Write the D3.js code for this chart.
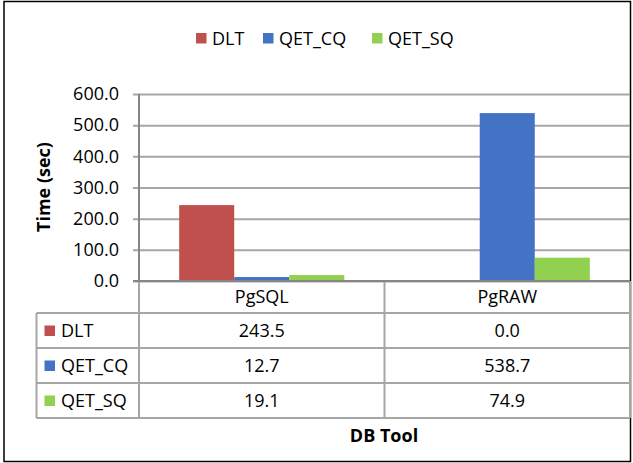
<!DOCTYPE html>
<html>
<head>
<meta charset="utf-8">
<script src="https://cdn.jsdelivr.net/npm/d3@7"></script>
<style>
  body { margin: 0; background: #fff; }
  text { font-family: "Open Sans", "Noto Sans", sans-serif; fill: #000; }
</style>
</head>
<body>
<svg class="chart"></svg>
<script>
// data
var categories = ["PgSQL", "PgRAW"];
var seriesNames = ["DLT", "QET_CQ", "QET_SQ"];
var dltValues = [243.5, 0.0];
var qetCqValues = [12.7, 538.7];
var qetSqValues = [19.1, 74.9];
var yTicks = [0, 100, 200, 300, 400, 500, 600];
var colors = ["#C0504D", "#4472C4", "#92D050"];

var seriesValues = [dltValues, qetCqValues, qetSqValues];

var width = 633;
var height = 463;
var fs = "18px";

var svg = d3.select(".chart")
  .attr("width", width)
  .attr("height", height);

// outer border
svg.append("rect")
  .attr("x", 4)
  .attr("y", 1.5)
  .attr("width", 626.5)
  .attr("height", 460)
  .attr("fill", "none")
  .attr("stroke", "#000")
  .attr("stroke-width", 1.5);

var plotLeft = 139;
var plotRight = 630;
var plotTop = 94;
var plotBottom = 281;

var x = d3.scaleBand()
  .domain(categories)
  .range([plotLeft, plotRight]);

var xSeries = d3.scaleBand()
  .domain(seriesNames)
  .range([0, x.bandwidth()])
  .paddingInner(0)
  .paddingOuter(0.73);

var y = d3.scaleLinear()
  .domain([0, 600])
  .range([plotBottom, plotTop]);

// gridlines + y labels
var yAxis = d3.axisLeft(y)
  .tickValues(yTicks)
  .tickFormat(d3.format(".1f"))
  .tickSize(-(plotRight - plotLeft));

var yg = svg.append("g")
  .attr("transform", "translate(" + plotLeft + ",0)")
  .call(yAxis);
yg.select(".domain").remove();
yg.selectAll(".tick line")
  .attr("x1", -6)
  .attr("stroke", "#A6A6A6")
  .attr("stroke-width", 2);
yg.selectAll(".tick text")
  .attr("x", -20)
  .style("font-size", fs)
  .style("font-family", "'Open Sans', sans-serif");

// bars
var barData = [];
seriesNames.forEach(function(s, si) {
  categories.forEach(function(c, ci) {
    barData.push({series: s, cat: c, value: seriesValues[si][ci], color: colors[si]});
  });
});

svg.append("g").selectAll("rect")
  .data(barData)
  .enter()
  .append("rect")
  .attr("x", function(d) { return x(d.cat) + xSeries(d.series); })
  .attr("y", function(d) { return y(d.value); })
  .attr("width", xSeries.bandwidth())
  .attr("height", function(d) { return plotBottom - y(d.value); })
  .attr("fill", function(d) { return d.color; });

// y axis line
svg.append("line")
  .attr("x1", plotLeft).attr("x2", plotLeft)
  .attr("y1", plotTop).attr("y2", plotBottom)
  .attr("stroke", "#868686")
  .attr("stroke-width", 2);

// data table under the plot
var tableLeft = 36.5;
var rowLines = [plotBottom, 313, 348, 383, 418];
var lineColor = "#A6A6A6";
var table = svg.append("g");

// horizontal lines
table.selectAll("line.h")
  .data(rowLines.slice(1))
  .enter()
  .append("line")
  .attr("class", "h")
  .attr("x1", tableLeft).attr("x2", plotRight)
  .attr("y1", function(d) { return d; })
  .attr("y2", function(d) { return d; })
  .attr("stroke", lineColor)
  .attr("stroke-width", 2);

// vertical lines
var vLines = [
  {x: tableLeft, y1: rowLines[1], y2: rowLines[4]},
  {x: plotLeft, y1: plotBottom, y2: rowLines[4]},
  {x: x(categories[1]), y1: plotBottom, y2: rowLines[4]},
  {x: plotRight, y1: plotBottom, y2: rowLines[4]}
];
table.selectAll("line.v")
  .data(vLines)
  .enter()
  .append("line")
  .attr("class", "v")
  .attr("x1", function(d) { return d.x; })
  .attr("x2", function(d) { return d.x; })
  .attr("y1", function(d) { return d.y1; })
  .attr("y2", function(d) { return d.y2; })
  .attr("stroke", lineColor)
  .attr("stroke-width", 2);

// x axis line (darker)
svg.append("line")
  .attr("x1", plotLeft - 6).attr("x2", plotRight)
  .attr("y1", plotBottom).attr("y2", plotBottom)
  .attr("stroke", "#868686")
  .attr("stroke-width", 2);

// header
table.selectAll("text.head")
  .data(categories)
  .enter()
  .append("text")
  .attr("class", "head")
  .attr("x", function(d) { return x(d) + x.bandwidth() / 2; })
  .attr("y", (rowLines[0] + rowLines[1]) / 2)
  .attr("dy", "0.35em")
  .attr("text-anchor", "middle")
  .style("font-size", fs)
  .text(function(d) { return d; });

// rows
seriesNames.forEach(function(s, si) {
  var cy = (rowLines[si + 1] + rowLines[si + 2]) / 2;
  table.append("rect")
    .attr("x", 44.5)
    .attr("y", cy - 5)
    .attr("width", 10.5)
    .attr("height", 10.5)
    .attr("fill", colors[si]);
  table.append("text")
    .attr("x", 61)
    .attr("y", cy)
    .attr("dy", "0.35em")
    .style("font-size", fs)
    .text(s);
  table.selectAll("text.v" + si)
    .data(seriesValues[si])
    .enter()
    .append("text")
    .attr("class", "v" + si)
    .attr("x", function(d, i) { return x(categories[i]) + x.bandwidth() / 2; })
    .attr("y", cy)
    .attr("dy", "0.35em")
    .attr("text-anchor", "middle")
    .style("font-size", fs)
    .text(function(d) { return d3.format(".1f")(d); });
});

// axis titles
svg.append("text")
  .attr("transform", "translate(50,187) rotate(-90)")
  .attr("text-anchor", "middle")
  .style("font-size", fs)
  .style("font-weight", "bold")
  .text("Time (sec)");

svg.append("text")
  .attr("x", 384)
  .attr("y", 436)
  .attr("dy", "0.35em")
  .attr("text-anchor", "middle")
  .style("font-size", fs)
  .style("font-weight", "bold")
  .text("DB Tool");

// legend
var legendX = [196, 263, 372];
var legend = svg.append("g");
legend.selectAll("rect")
  .data(seriesNames)
  .enter()
  .append("rect")
  .attr("x", function(d, i) { return legendX[i]; })
  .attr("y", 33)
  .attr("width", 10.5)
  .attr("height", 10.5)
  .attr("fill", function(d, i) { return colors[i]; });
legend.selectAll("text")
  .data(seriesNames)
  .enter()
  .append("text")
  .attr("x", function(d, i) { return legendX[i] + 16; })
  .attr("y", 38.5)
  .attr("dy", "0.35em")
  .style("font-size", fs)
  .text(function(d) { return d; });
</script>
</body>
</html>
